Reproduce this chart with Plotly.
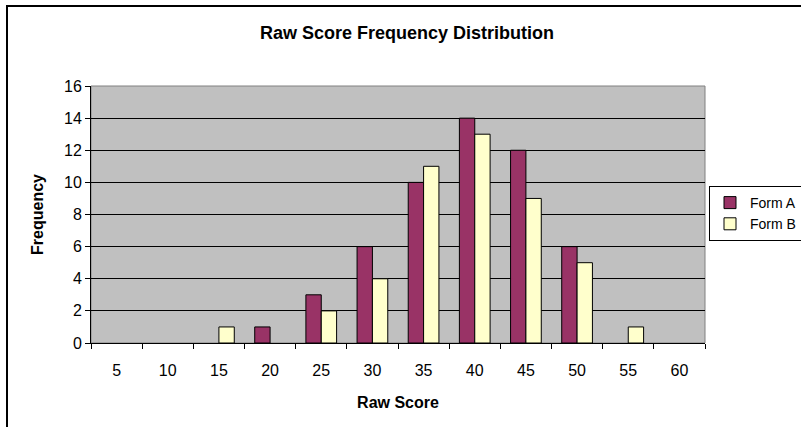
import plotly.graph_objects as go

categories = ["5", "10", "15", "20", "25", "30", "35", "40", "45", "50", "55", "60"]
form_a = [0, 0, 0, 1, 3, 6, 10, 14, 12, 6, 0, 0]
form_b = [0, 0, 1, 0, 2, 4, 11, 13, 9, 5, 1, 0]

W, H = 801, 427
L, R, T, B = 91, 705, 86, 343

def nz(vals):
    # zero-height bars are not drawn in the reference
    return [v if v else None for v in vals]

fig = go.Figure()
fig.add_trace(go.Bar(x=categories, y=nz(form_a), name="Form A",
                     marker=dict(color="#993366", line=dict(color="black", width=1))))
fig.add_trace(go.Bar(x=categories, y=nz(form_b), name="Form B",
                     marker=dict(color="#FFFFCC", line=dict(color="black", width=1))))

pw, ph = R - L, B - T
def px(x):
    return (x - L) / pw
def py(y):
    return (B - y) / ph

tickfont = dict(family="Liberation Sans Narrow, Arial Narrow, Liberation Sans", size=16, color="black")

fig.update_layout(
    width=W, height=H, autosize=False,
    margin=dict(l=L, r=W - R, t=T, b=H - B, pad=0),
    paper_bgcolor="white", plot_bgcolor="#C0C0C0",
    font=dict(family="Liberation Sans, Arial", size=14, color="black"),
    barmode="group", bargap=0.4, bargroupgap=0,
    title=dict(text="<b>Raw Score Frequency Distribution</b>", x=407 / W, xref="container",
               xanchor="center", y=1 - 33 / H, yref="container", yanchor="middle",
               font=dict(size=18, color="black")),
    legend=dict(x=709 / W, y=1 - 186 / H, xanchor="left", yanchor="top",
                xref="container", yref="container",
                bordercolor="black", borderwidth=1, bgcolor="white",
                font=dict(size=14), tracegroupgap=0),
    showlegend=True,
)
fig.update_xaxes(type="category", showline=True, linecolor="black", linewidth=1,
                 ticks="outside", tickson="boundaries", ticklen=5, tickcolor="black",
                 showgrid=False, ticklabelstandoff=13, automargin=False,
                 title=dict(text="<b>Raw Score</b>", font=dict(size=16), standoff=18),
                 tickfont=tickfont)
fig.update_yaxes(range=[0, 16], dtick=2, showline=True, linecolor="black", linewidth=1,
                 ticks="outside", ticklen=5, tickcolor="black",
                 showgrid=True, gridcolor="black", gridwidth=1, zeroline=False,
                 automargin=False,
                 title=dict(text="<b>Frequency</b>", font=dict(size=16), standoff=16),
                 tickfont=tickfont)

# plot area border (gray) and chart outer frame
fig.add_shape(type="rect", xref="paper", yref="paper", x0=0, x1=1, y0=0, y1=1,
              line=dict(color="#808080", width=1), layer="below")
fig.add_shape(type="rect", xref="paper", yref="paper",
              x0=px(7), x1=px(830), y0=py(450), y1=py(6),
              line=dict(color="black", width=2))

post = ("document.body.style.margin='0';document.body.style.overflow='hidden';")
fig.write_html("out.html", post_script=post, config={"displayModeBar": False})
